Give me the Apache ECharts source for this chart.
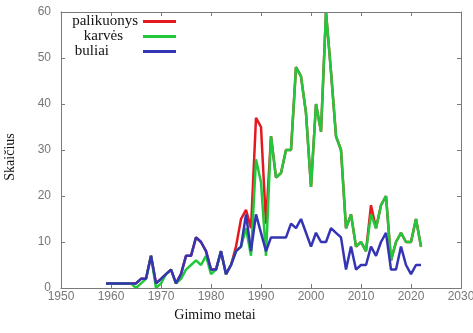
<!DOCTYPE html>
<html>
<head>
<meta charset="utf-8">
<script src="https://cdn.jsdelivr.net/npm/echarts@6/dist/echarts.min.js"></script>
<style>
html, body { margin: 0; padding: 0; background: #fff; }
#chart { width: 473px; height: 333px; }
</style>
</head>
<body>
<div id="chart"></div>
<script>
// Birth years (Gimimo metai)
const years = [
  1959, 1960, 1961, 1962, 1963, 1964, 1965, 1966, 1967, 1968,
  1969, 1970, 1971, 1972, 1973, 1974, 1975, 1976, 1977, 1978,
  1979, 1980, 1981, 1982, 1983, 1984, 1985, 1986, 1987, 1988,
  1989, 1990, 1991, 1992, 1993, 1994, 1995, 1996, 1997, 1998,
  1999, 2000, 2001, 2002, 2003, 2004, 2005, 2006, 2007, 2008,
  2009, 2010, 2011, 2012, 2013, 2014, 2015, 2016, 2017, 2018,
  2019, 2020, 2021, 2022
];

// Offspring in total
const palikuonys = [
  1, 1, 1, 1, 1, 1, 1, 2, 2, 7,
  1, 2, 3, 4, 1, 3, 7, 7, 11, 10,
  8, 4, 4, 8, 3, 5, 9, 15, 17, 13,
  37, 35, 14, 33, 24, 25, 30, 30, 48, 46,
  38, 22, 40, 34, 60, 47, 33, 30, 13, 16,
  9, 10, 8, 18, 13, 18, 20, 6, 10, 12,
  10, 10, 15, 9
];

// Cows
const karves = [
  1, 1, 1, 1, 1, 1, 0, 1, 2, 7,
  0, 1, 3, 4, 1, 2, 4, 5, 6, 5,
  7, 3, 4, 8, 3, 5, 8, 9, 13, 7,
  28, 23, 7, 33, 24, 25, 30, 30, 48, 46,
  38, 22, 40, 34, 60, 47, 33, 30, 13, 16,
  9, 10, 8, 16, 13, 18, 20, 6, 10, 12,
  10, 10, 15, 9
];

// Bulls
const buliai = [
  1, 1, 1, 1, 1, 1, 1, 2, 2, 7,
  1, 2, 3, 4, 1, 3, 7, 7, 11, 10,
  8, 4, 4, 8, 3, 5, 8, 9, 16, 8,
  16, 12, 8, 11, 11, 11, 11, 14, 13, 15,
  12, 9, 12, 10, 10, 13, 12, 11, 4, 9,
  4, 5, 5, 9, 7, 10, 12, 4, 4, 9,
  5, 3, 5, 5
];

// Axis settings
const xMin = 1950, xMax = 2030, xStep = 10;
const yMin = 0, yMax = 60, yStep = 10;

const pairs = vals => years.map((y, i) => [y, vals[i]]);

const frameColor = '#7a7a7a';
const labelFont = 'Liberation Sans';
const titleFont = 'Liberation Serif';

function axisBase(min, max, step) {
  return {
    type: 'value', min: min, max: max, interval: step,
    axisLine: { show: true, onZero: false, lineStyle: { color: frameColor, width: 1 } },
    axisTick: { show: true, inside: true, length: 4, lineStyle: { color: frameColor, width: 1 } },
    splitLine: { show: false }
  };
}

const chart = echarts.init(document.getElementById('chart'), null, { renderer: 'canvas' });

chart.setOption({
  animation: false,
  backgroundColor: '#fff',
  grid: {
    left: 61, right: 12, top: 12, bottom: 45,
    containLabel: false, outerBoundsMode: 'none'
  },
  xAxis: [
    Object.assign(axisBase(xMin, xMax, xStep), {
      position: 'bottom',
      axisLabel: { color: '#777', fontSize: 12, fontFamily: labelFont, margin: 3, formatter: v => String(v) }
    }),
    Object.assign(axisBase(xMin, xMax, xStep), { position: 'top', axisLabel: { show: false } })
  ],
  yAxis: [
    Object.assign(axisBase(yMin, yMax, yStep), {
      position: 'left',
      axisLabel: { color: '#777', fontSize: 12, fontFamily: labelFont, margin: 10 }
    }),
    Object.assign(axisBase(yMin, yMax, yStep), { position: 'right', axisLabel: { show: false } })
  ],
  legend: {
    orient: 'vertical',
    right: 297,
    top: 14,
    padding: 0,
    itemGap: 0,
    align: 'right',
    icon: 'rect',
    itemWidth: 33,
    itemHeight: 3,
    textStyle: { fontFamily: titleFont, fontSize: 15, color: '#111', lineHeight: 14.5 },
    data: [
      { name: 'palikuonys' },
      { name: 'karvės', textStyle: { padding: [0, 15, 0, 0] } },
      { name: 'buliai', textStyle: { padding: [0, 29, 0, 0] } }
    ]
  },
  series: [
    {
      name: 'palikuonys', type: 'line', symbol: 'none', data: pairs(palikuonys),
      lineStyle: { color: '#e3191f', width: 2.5 }, itemStyle: { color: '#e3191f' }
    },
    {
      name: 'karvės', type: 'line', symbol: 'none', data: pairs(karves),
      lineStyle: { color: '#22c83c', width: 2.5 }, itemStyle: { color: '#22c83c' }
    },
    {
      name: 'buliai', type: 'line', symbol: 'none', data: pairs(buliai),
      lineStyle: { color: '#3434b4', width: 2.5 }, itemStyle: { color: '#3434b4' }
    }
  ]
});

// Plot frame and axis titles, placed from the grid's own scale
const topLeft = chart.convertToPixel({ xAxisIndex: 0, yAxisIndex: 0 }, [xMin, yMax]);
const bottomRight = chart.convertToPixel({ xAxisIndex: 0, yAxisIndex: 0 }, [xMax, yMin]);
const fx = Math.round(topLeft[0]) + 0.5, fy = Math.round(topLeft[1]) + 0.5;
const fw = Math.round(bottomRight[0]) - Math.round(topLeft[0]);
const fh = Math.round(bottomRight[1]) - Math.round(topLeft[1]);

chart.setOption({
  graphic: [
    {
      type: 'rect', z: 50, silent: true,
      shape: { x: fx, y: fy, width: fw, height: fh },
      style: { fill: 'none', stroke: frameColor, lineWidth: 1 }
    },
    {
      type: 'text', x: 10, y: 157, rotation: Math.PI / 2,
      style: { text: 'Skaičius', font: '14px "Liberation Serif"', fill: '#111', align: 'center', verticalAlign: 'middle' }
    },
    {
      type: 'text', x: 215, y: 315,
      style: { text: 'Gimimo metai', font: '14px "Liberation Serif"', fill: '#111', align: 'center', verticalAlign: 'middle' }
    }
  ]
});
</script>
</body>
</html>
